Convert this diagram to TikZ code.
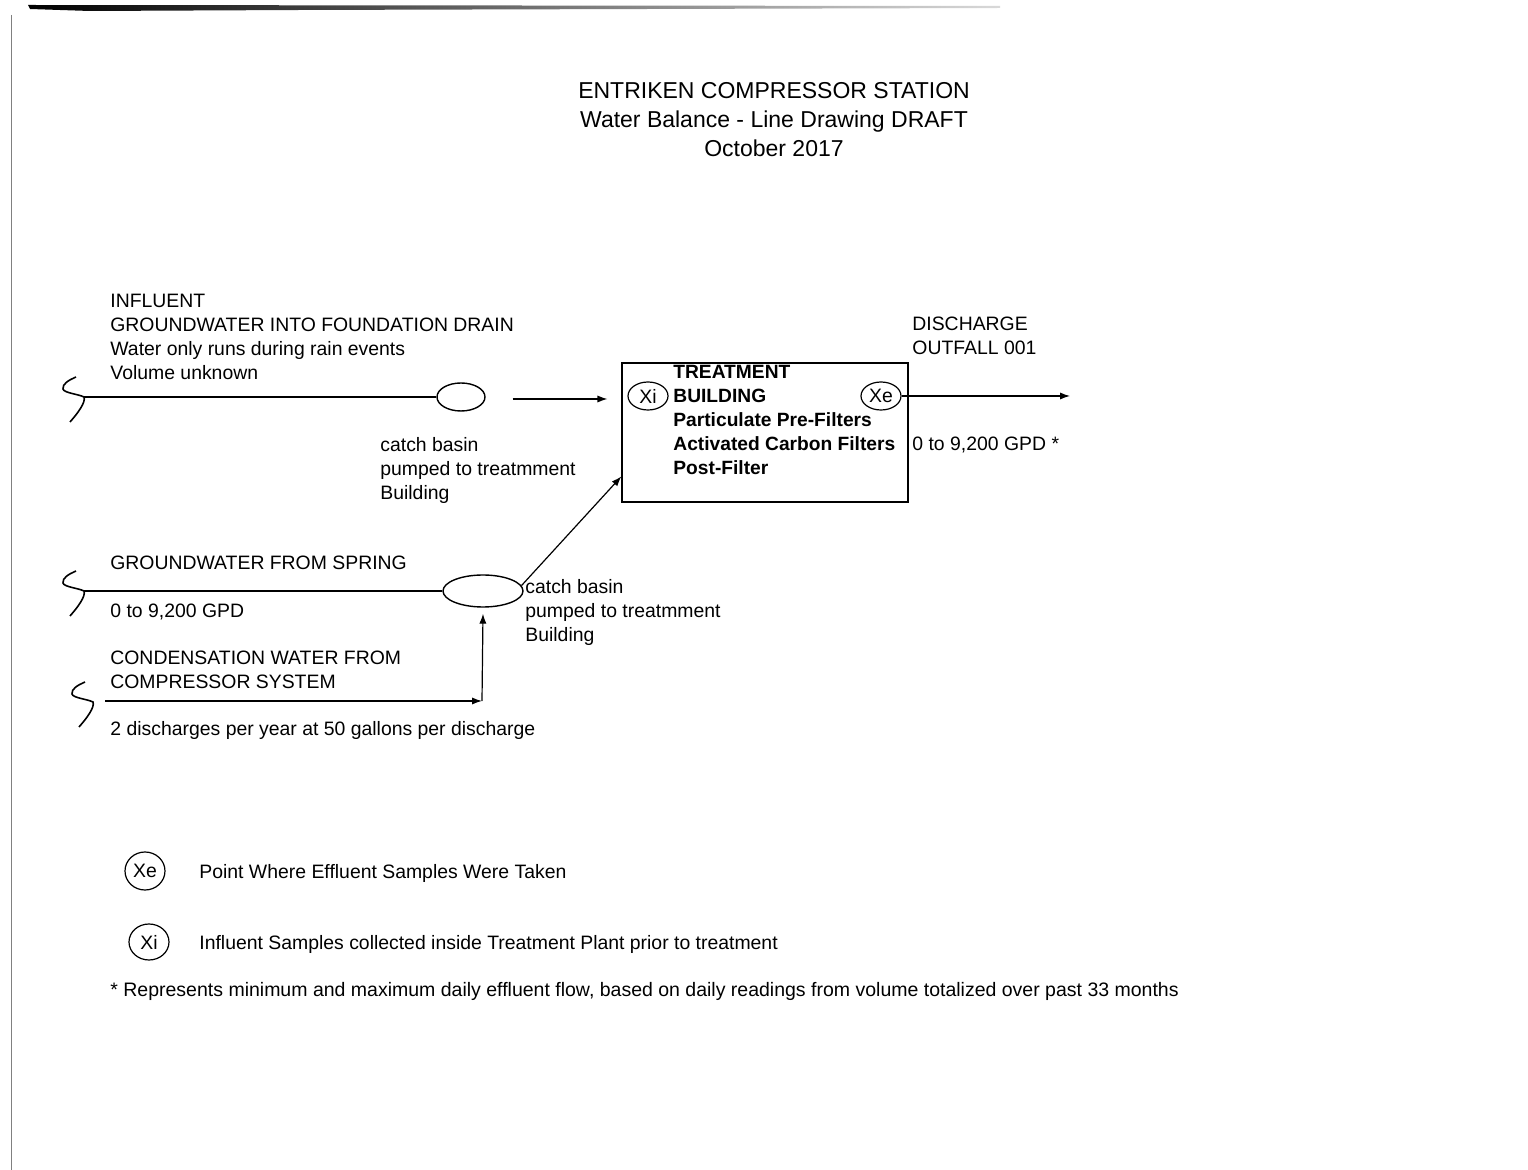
\documentclass[tikz,border=0pt]{standalone}
\usepackage{fontspec}
\setmainfont{Liberation Sans}
\usetikzlibrary{arrows.meta,shapes.geometric,calc}

\tikzset{
  txt/.style={anchor=north west, inner sep=0pt, align=left,
              font=\fontsize{9.7}{12}\selectfont},
  flow/.style={-{Latex[length=5pt,width=3.6pt]}, line width=0.6pt},
  pipe/.style={line width=0.9pt},
  basin/.style={ellipse, draw, line width=0.7pt, inner sep=0pt},
  spot/.style={ellipse, draw, line width=0.6pt, inner sep=0pt,
               minimum width=20pt, minimum height=14pt,
               font=\fontsize{9.7}{12}\selectfont},
  wave/.pic={
    \draw[line width=0.8pt] (-8,-20) .. controls (-15,-17) and (-22,-13) .. (-21,-8)
          .. controls (-20,-4) and (-6,-3) .. (0,0)
          .. controls (2,5) and (-6,16) .. (-14,25);
    \coordinate (-o) at (0,0);
  }
}

\begin{document}
\begin{tikzpicture}[x=0.5pt,y=-0.5pt]
\useasboundingbox (0,0) rectangle (1528,1170);

% scanned page edges
\shade[left color=black, right color=black!15]
      (28,5) -- (1000,6) -- (1000,8) -- (300,10) -- (90,11) -- (30,9) -- cycle;
\draw[black!50, line width=0.5pt] (11,15) -- (11,1170);

% title
\node[anchor=north, align=center, inner sep=0pt,
      font=\fontsize{11.5}{14.5}\selectfont] (title) at (774,82)
      {ENTRIKEN COMPRESSOR STATION\\Water Balance - Line Drawing DRAFT\\October 2017};

% treatment building
\node[draw, line width=0.6pt, minimum width=143pt, minimum height=69.5pt]
      (trt) at (765,432.5) {};
\node[txt, font=\bfseries\fontsize{9.6}{12}\selectfont] (trttxt) at (673,365)
      {TREATMENT\\BUILDING\\Particulate Pre-Filters\\Activated Carbon Filters\\Post-Filter};
\node[spot] (xi) at (648,396) {Xi};
\node[spot] (xe) at (881,396) {Xe};

% discharge
\coordinate (out) at (1070,396);
\draw[flow] (xe) -- (out);
\node[txt] (dis) at (912,317) {DISCHARGE\\OUTFALL 001};
\node[txt] (disq) at (912,437) {0 to 9,200 GPD *};

% influent: foundation drain
\node[txt] (inf) at (110,294)
      {INFLUENT\\GROUNDWATER INTO FOUNDATION DRAIN\\Water only runs during rain events\\Volume unknown};
\node[basin, minimum width=24pt, minimum height=14pt] (cb1) at (461,397) {};
\pic (w1) at (84,397) {wave};
\draw[pipe] (w1-o) -- (cb1);
\draw[flow] ($(cb1.east)+(27,2)$) -- ($(trt.west |- cb1)+(-14,2)$);
\node[txt] (cb1txt) at (380,437) {catch basin\\pumped to treatmment\\Building};

% groundwater from spring
\node[txt] (spr) at (110,556) {GROUNDWATER FROM SPRING};
\node[txt] (sprq) at (110,604) {0 to 9,200 GPD};
\node[basin, minimum width=40pt, minimum height=16pt] (cb2) at (483,591) {};
\pic (w2) at (84,591) {wave};
\draw[pipe] (w2-o) -- (cb2);
\draw[flow] (cb2.8) -- (trt.197);
\node[txt] (cb2txt) at (525,579) {catch basin\\pumped to treatmment\\Building};

% condensation water
\node[txt] (cond) at (110,651) {CONDENSATION WATER FROM\\COMPRESSOR SYSTEM};
\node[txt] (condq) at (110,721) {2 discharges per year at 50 gallons per discharge};
\pic (w3) at (93,702) {wave};
\coordinate (j3) at (482,701);
\draw[flow] ($(w3-o)+(12,-1)$) -- (j3);
\draw[flow] (j3) -- ($(cb2.south)+(0,6)$);

% legend
\node[spot, minimum width=20pt, minimum height=19pt] (lxe) at (145,871) {Xe};
\node[txt] (lxetxt) at (199,864) {Point Where Effluent Samples Were Taken};
\node[spot, minimum width=20pt, minimum height=18pt] (lxi) at (149,942) {Xi};
\node[txt] (lxitxt) at (199,935) {Influent Samples collected inside Treatment Plant prior to treatment};
\node[txt, font=\fontsize{9.75}{12}\selectfont] (note) at (110,982)
      {* Represents minimum and maximum daily effluent flow, based on daily readings from volume totalized over past 33 months};
\end{tikzpicture}
\end{document}
